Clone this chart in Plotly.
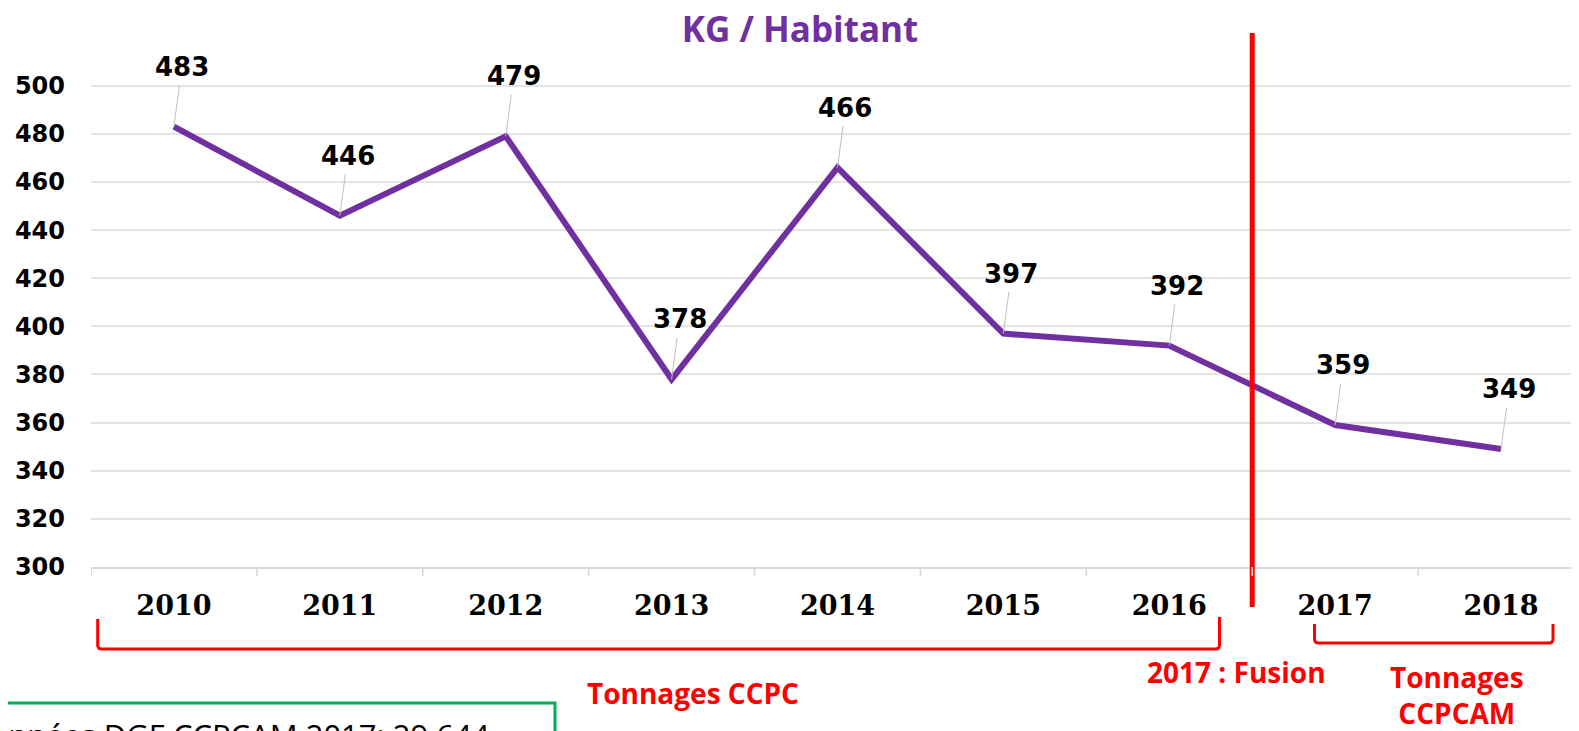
import plotly.graph_objects as go

years = ["2010", "2011", "2012", "2013", "2014", "2015", "2016", "2017", "2018"]
kg_per_hab = [483, 446, 479, 378, 466, 397, 392, 359, 349]
y_ticks = [300, 320, 340, 360, 380, 400, 420, 440, 460, 480, 500]

PURPLE = "#7030A0"
RED = "#FF0000"

# page offset of the figure inside the browser (body margin)
OFF = 8
FIG_W, FIG_H = 1579, 731
W0, W1 = 91 - OFF, 1579 - OFF      # plot area, figure px
H0, H1 = 40 - OFF, 567 - OFF


def px_x(p):  # screen px -> paper x
    return (p - OFF - W0) / (W1 - W0)


def px_y(p):  # screen px -> paper y
    return 1 - (p - OFF - H0) / (H1 - H0)


fig = go.Figure()
fig.add_trace(go.Scatter(
    x=list(range(len(years))), y=kg_per_hab, mode="lines",
    line=dict(color=PURPLE, width=6),
    hoverinfo="y", showlegend=False,
))

annotations = []
for i, v in enumerate(kg_per_hab):
    annotations.append(dict(
        x=i, y=v, xref="x", yref="y", text=str(v),
        showarrow=True, arrowhead=0, arrowwidth=1, arrowcolor="#BFBFBF",
        ax=8, ay=-60, axref="pixel", ayref="pixel", borderpad=3,
        font=dict(family="DejaVu Sans", size=26, color="black", weight="bold"),
    ))

red_font = dict(family="Open Sans", size=28, color=RED, weight="bold")
annotations += [
    dict(x=px_x(693), y=px_y(693), xref="paper", yref="paper", text="Tonnages CCPC",
         showarrow=False, font=red_font, xanchor="center", yanchor="middle"),
    dict(x=px_x(1236), y=px_y(672), xref="paper", yref="paper", text="2017 : Fusion",
         showarrow=False, font=red_font, xanchor="center", yanchor="middle"),
    dict(x=px_x(1457), y=px_y(695), xref="paper", yref="paper", text="Tonnages<br>CCPCAM",
         showarrow=False, font=red_font, xanchor="center", yanchor="middle"),
    dict(x=px_x(492), y=px_y(735), xref="paper", yref="paper",
         text="Données DGF CCPCAM 2017: 29 644",
         showarrow=False, font=dict(family="Open Sans", size=31, color="black"),
         xanchor="right", yanchor="middle"),
]


def bracket(xl, xr, ytop_l, ytop_r, ybot):
    x0, x1 = px_x(xl), px_x(xr)
    yl, yr_, yb = px_y(ytop_l), px_y(ytop_r), px_y(ybot)
    rx, ry = 4 / (W1 - W0), 4 / (H1 - H0)
    return (f"M {x0},{yl} L {x0},{yb + ry} Q {x0},{yb} {x0 + rx},{yb} "
            f"L {x1 - rx},{yb} Q {x1},{yb} {x1},{yb + ry} L {x1},{yr_}")


shapes = [
    dict(type="line", xref="x", yref="paper", x0=6.5, x1=6.5,
         y0=px_y(607), y1=px_y(33), line=dict(color=RED, width=5)),
    dict(type="path", xref="paper", yref="paper",
         path=bracket(97.7, 1219.5, 619, 617, 649), line=dict(color=RED, width=3)),
    dict(type="path", xref="paper", yref="paper",
         path=bracket(1314.5, 1553, 624, 624, 643), line=dict(color=RED, width=3)),
    dict(type="rect", xref="paper", yref="paper",
         x0=px_x(-10), x1=px_x(555), y0=px_y(703), y1=px_y(800),
         line=dict(color="#00B050", width=3), fillcolor="rgba(0,0,0,0)"),
]

fig.update_layout(
    width=FIG_W, height=FIG_H,
    margin=dict(l=W0, r=FIG_W - W1, t=H0, b=FIG_H - H1, pad=0, autoexpand=False),
    paper_bgcolor="white", plot_bgcolor="white",
    title=dict(text="KG / Habitant", xref="paper", x=px_x(800), xanchor="center",
               yref="container", y=1 - (30 - OFF) / FIG_H, yanchor="middle",
               font=dict(family="Open Sans", size=35, color=PURPLE, weight="bold")),
    xaxis=dict(tickmode="array", tickvals=list(range(len(years))), ticktext=years,
               range=[-0.5, 8.47], showgrid=False, showline=True, linecolor="#D9D9D9",
               linewidth=1.5, ticks="", zeroline=False, ticklabelstandoff=14,
               tickfont=dict(family="DejaVu Serif", size=27, color="black", weight="bold"),
               fixedrange=True, automargin=False),
    yaxis=dict(range=[300, 519], tickvals=y_ticks, showgrid=True, gridcolor="#E4E4E4",
               gridwidth=1.5, zeroline=False, showline=False, ticks="",
               ticklabelstandoff=25,
               tickfont=dict(family="DejaVu Sans", size=24, color="black", weight="bold"),
               fixedrange=True, automargin=False),
    annotations=annotations,
    shapes=shapes,
)

# small separator ticks between categories on the x axis
for k in range(len(years) + 1):
    fig.add_shape(type="line", xref="x", yref="paper", x0=k - 0.5, x1=k - 0.5,
                  y0=0, y1=-9 / (H1 - H0), line=dict(color="#D9D9D9", width=1.5))

fig.write_html("out.html")
